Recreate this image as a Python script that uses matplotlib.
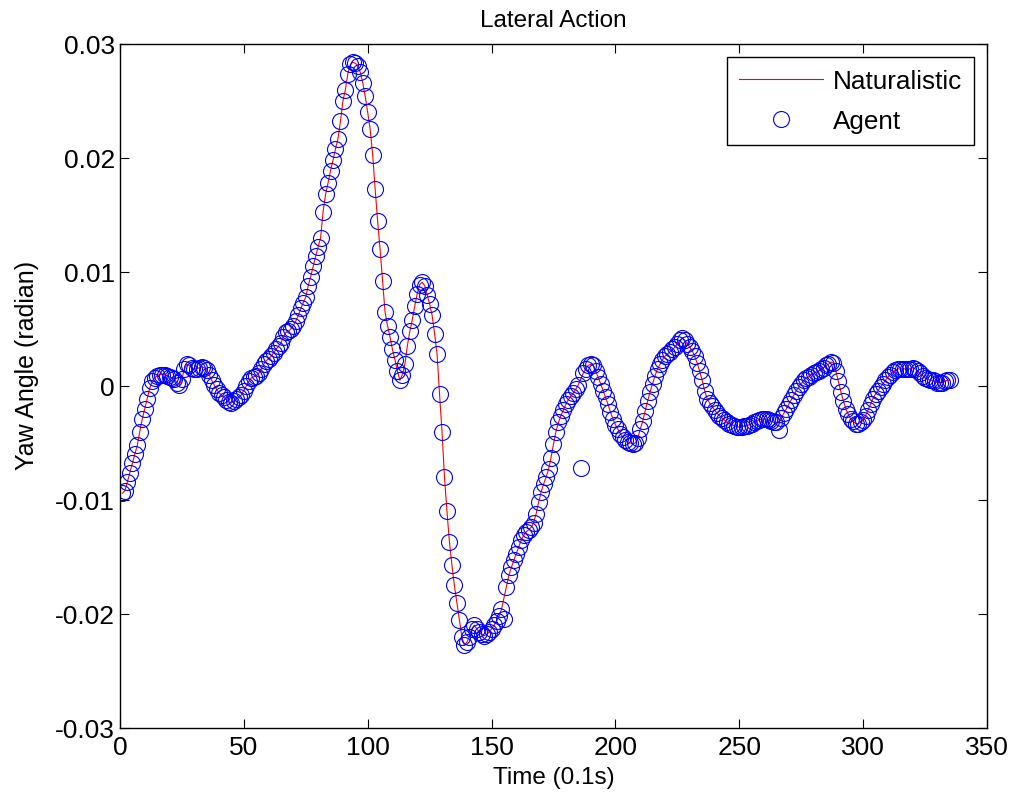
import numpy as np
import matplotlib
matplotlib.use('Agg')
import matplotlib.pyplot as plt

# Time steps (0.1 s) and naturalistic yaw angle (x1e-3 rad)
time = np.arange(1, 336)
naturalistic_milli = [
    -9.4, -9.2, -8.4, -7.6, -6.8, -6.0, -5.2, -4.0, -2.9, -2.0,    # 1-10
    -1.1, -0.2, 0.4, 0.7, 0.9, 1.0, 1.0, 1.0, 0.9, 0.8,            # 11-20
    0.7, 0.6, 0.3, 0.1, 0.6, 1.5, 1.9, 1.8, 1.6, 1.5,              # 21-30
    1.5, 1.6, 1.7, 1.6, 1.4, 1.0, 0.5, 0.1, -0.3, -0.6,            # 31-40
    -0.8, -1.0, -1.2, -1.4, -1.5, -1.3, -1.1, -1.0, -0.8, -0.4,    # 41-50
    0.0, 0.4, 0.7, 0.8, 0.9, 1.1, 1.5, 1.9, 2.2, 2.4,              # 51-60
    2.6, 2.9, 3.2, 3.5, 3.8, 4.3, 4.7, 4.8, 5.0, 5.3,              # 61-70
    5.7, 6.2, 6.8, 7.3, 7.8, 8.8, 9.6, 10.5, 11.4, 12.2,           # 71-80
    13.0, 15.3, 16.8, 17.8, 18.9, 19.8, 20.8, 21.7, 23.2, 25.0,    # 81-90
    26.0, 27.4, 28.2, 28.4, 28.3, 28.1, 27.5, 26.6, 25.4, 24.0,    # 91-100
    22.5, 20.3, 17.3, 14.5, 12.0, 9.2, 6.5, 5.3, 4.3, 3.2,         # 101-110
    2.3, 1.3, 0.5, 1.0, 1.9, 3.5, 4.8, 5.8, 7.0, 8.1,              # 111-120
    8.9, 9.1, 8.8, 8.0, 7.2, 6.2, 4.6, 2.8, -0.7, -4.0,            # 121-130
    -8.0, -11.0, -13.7, -15.7, -17.5, -19.0, -20.5, -22.0, -22.7, -22.5,  # 131-140
    -22.0, -21.3, -21.0, -21.3, -21.6, -21.8, -21.9, -21.8, -21.6, -21.3,  # 141-150
    -21.0, -20.6, -20.2, -19.6, -18.6, -17.6, -16.6, -15.9, -15.3, -14.7,  # 151-160
    -14.1, -13.5, -13.1, -12.8, -12.6, -12.4, -12.0, -11.2, -10.2, -9.3,   # 161-170
    -8.6, -8.0, -7.3, -6.3, -5.1, -4.0, -3.2, -2.6, -2.1, -1.6,    # 171-180
    -1.2, -0.9, -0.6, -0.3, 0.1, 0.6, 1.1, 1.5, 1.8, 1.9,          # 181-190
    1.8, 1.3, 0.8, 0.2, -0.4, -1.0, -1.6, -2.3, -2.9, -3.4,        # 191-200
    -3.8, -4.2, -4.5, -4.7, -4.9, -5.0, -5.1, -5.0, -4.6, -3.8,    # 201-210
    -3.1, -2.2, -1.3, -0.5, 0.2, 0.9, 1.5, 1.9, 2.3, 2.6,          # 211-220
    2.8, 3.0, 3.2, 3.4, 3.7, 4.0, 4.2, 4.0, 3.7, 3.4,              # 221-230
    3.1, 2.6, 2.0, 1.3, 0.5, -0.4, -1.1, -1.5, -1.8, -2.1,         # 231-240
    -2.4, -2.6, -2.8, -3.0, -3.2, -3.3, -3.4, -3.5, -3.6, -3.6,    # 241-250
    -3.6, -3.5, -3.5, -3.4, -3.3, -3.2, -3.1, -3.0, -2.9, -2.9,    # 251-260
    -2.9, -3.0, -3.1, -3.2, -3.2, -3.1, -2.8, -2.4, -2.0, -1.6,    # 261-270
    -1.2, -0.8, -0.4, -0.1, 0.2, 0.5, 0.7, 0.8, 1.0, 1.1,          # 271-280
    1.2, 1.3, 1.5, 1.6, 1.8, 1.9, 2.1, 2.0, 1.3, 0.4,              # 281-290
    -0.5, -1.3, -2.0, -2.5, -2.9, -3.1, -3.3, -3.3, -3.2, -3.0,    # 291-300
    -2.6, -2.1, -1.6, -1.1, -0.7, -0.4, -0.1, 0.2, 0.5, 0.8,       # 301-310
    1.0, 1.2, 1.4, 1.5, 1.5, 1.5, 1.5, 1.5, 1.5, 1.6,              # 311-320
    1.5, 1.3, 1.1, 0.9, 0.7, 0.6, 0.5, 0.5, 0.4, 0.3,              # 321-330
    0.3, 0.3, 0.4, 0.5, 0.5,                                        # 331-335
]
naturalistic = np.array(naturalistic_milli) / 1000.0

# Agent follows the naturalistic trace except at a few visible outliers
agent_outliers = {155: -0.0204, 186: -0.0072, 266: -0.0039}
agent = naturalistic.copy()
for t, v in agent_outliers.items():
    agent[t - 1] = v

x_ticks = [0, 50, 100, 150, 200, 250, 300, 350]
y_ticks = [-0.03, -0.02, -0.01, 0, 0.01, 0.02, 0.03]
y_tick_labels = ['-0.03', '-0.02', '-0.01', '0', '0.01', '0.02', '0.03']

plt.rcParams['font.family'] = ['Liberation Sans', 'DejaVu Sans']
plt.rcParams['font.size'] = 17.5

fig = plt.figure(figsize=(10.14, 8.03), dpi=100)
ax = fig.add_axes([0.1183, 0.0922, 0.8551, 0.8518])

ax.plot(time, naturalistic, color='red', linewidth=0.8, label='Naturalistic')
ax.plot(time, agent, linestyle='none', marker='o', markersize=11.5,
        markerfacecolor='none', markeredgecolor='blue', markeredgewidth=0.8,
        label='Agent')

ax.set_xlim(0, 350)
ax.set_ylim(-0.03, 0.03)
ax.set_xticks(x_ticks)
ax.set_yticks(y_ticks)
ax.set_yticklabels(y_tick_labels)
ax.tick_params(direction='in', length=6.5, width=0.8, top=True, right=True,
               labelsize=19)
ax.tick_params(axis='x', pad=5)
for s in ax.spines.values():
    s.set_linewidth(1.0)

ax.set_xlabel('Time (0.1s)', labelpad=5)
ax.set_ylabel('Yaw Angle (radian)', fontsize=18)
ax.yaxis.set_label_coords(-0.107, 0.531)
ax.yaxis.label.set_va('center')
ax.set_title('Lateral Action', fontsize=17.5, pad=13)

leg = ax.legend(loc='upper right', fancybox=False, edgecolor='black',
                framealpha=1, handlelength=3.2, handletextpad=0.4,
                borderaxespad=0.5, borderpad=0.45, labelspacing=0.62,
                fontsize=18.8)
leg.get_frame().set_linewidth(1.0)

plt.savefig('out.png', dpi=100)
